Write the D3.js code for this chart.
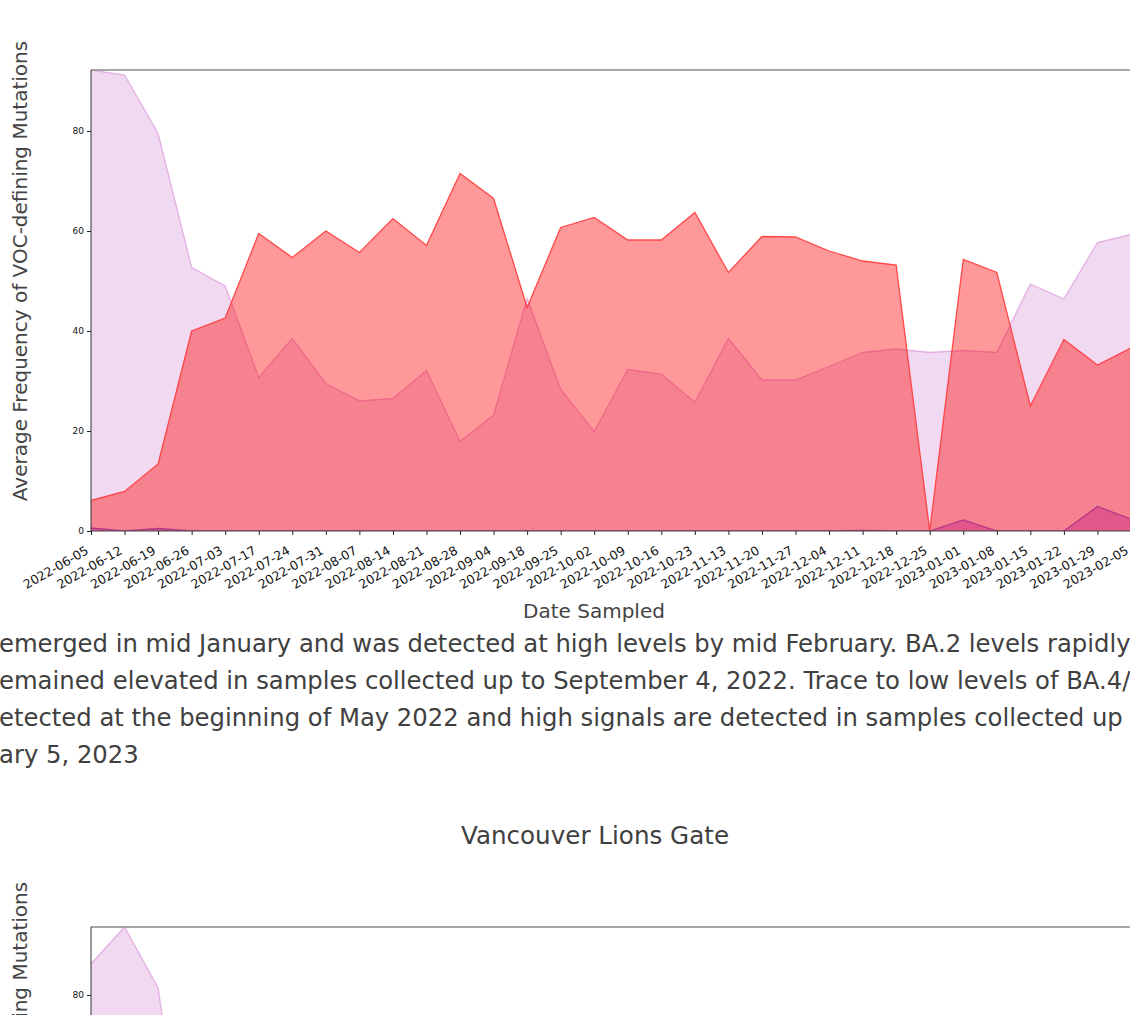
<!DOCTYPE html>
<html>
<head>
<meta charset="utf-8">
<script src="https://cdn.jsdelivr.net/npm/d3@7/dist/d3.min.js"></script>
<style>
  html, body { margin: 0; padding: 0; background: #fff; overflow: hidden; }
  svg { display: block; }
  text { font-family: "DejaVu Sans", sans-serif; }
</style>
</head>
<body>
<svg id="chart" width="1130" height="1015"></svg>
<script>
// ---- Data (chart 1) ----
const dates = ["2022-06-05","2022-06-12","2022-06-19","2022-06-26","2022-07-03","2022-07-17","2022-07-24","2022-07-31",
  "2022-08-07","2022-08-14","2022-08-21","2022-08-28","2022-09-04","2022-09-18","2022-09-25","2022-10-02",
  "2022-10-09","2022-10-16","2022-10-23","2022-11-13","2022-11-20","2022-11-27","2022-12-04","2022-12-11",
  "2022-12-18","2022-12-25","2023-01-01","2023-01-08","2023-01-15","2023-01-22","2023-01-29","2023-02-05"];
const seriesPurple = [92.2,91.2,79.5,52.7,49.0,30.7,38.5,29.5,26.0,26.5,32.1,17.9,23.2,46.5,28.3,19.9,
  32.3,31.4,25.7,38.5,30.2,30.2,32.9,35.7,36.4,35.7,36.1,35.7,49.4,46.4,57.7,59.3];
const seriesRed = [6.1,7.9,13.4,40.0,42.6,59.5,54.7,60.0,55.7,62.5,57.1,71.5,66.5,44.7,60.7,62.7,
  58.2,58.2,63.7,51.7,58.9,58.8,56.0,54.0,53.2,0.0,54.3,51.7,25.0,38.3,33.2,36.6];
const seriesMagenta = [0.6,0.0,0.5,0.0,0.0,0.0,0.0,0.0,0.0,0.0,0.0,0.0,0.0,0.0,0.0,0.0,
  0.0,0.0,0.0,0.0,0.0,0.0,0.0,0.1,0.0,0.0,2.2,0.0,0.0,0.0,4.9,2.4];
const yTicks = [0,20,40,60,80];

// ---- Data (chart 2, only the visible part) ----
const dates2 = dates;
const seriesPurple2 = [86.2,93.6,81.4,36.0];
const yTicks2 = [0,20,40,60,80];

// ---- Text ----
const yLabel = "Average Frequency of VOC-defining Mutations";
const xLabel = "Date Sampled";
const paragraphLines = [
  "emerged in mid January and was detected at high levels by mid February. BA.2 levels rapidly",
  "emained elevated in samples collected up to September 4, 2022. Trace to low levels of BA.4/5",
  "etected at the beginning of May 2022 and high signals are detected in samples collected up to",
  "ary 5, 2023"
];
const title2 = "Vancouver Lions Gate";

const svg = d3.select("#chart");

const colors = {
  purpleFill: "rgb(221,160,221)", purpleLine: "rgb(221,160,221)",
  redFill: "rgb(255,0,0)", redLine: "#ff3a3a",
  magFill: "rgb(199,21,133)", magLine: "#a52a86"
};

function drawChart(g, cfg) {
  const x = d3.scalePoint().domain(cfg.dates).range([cfg.left, cfg.right]);
  const y = d3.scaleLinear().domain([0, cfg.ymax]).range([cfg.bottom, cfg.top]);
  const clipId = "clip" + cfg.id;
  g.append("clipPath").attr("id", clipId).append("rect")
    .attr("x", cfg.left).attr("y", cfg.top).attr("width", cfg.right - cfg.left).attr("height", cfg.bottom - cfg.top);
  const plot = g.append("g").attr("clip-path", `url(#${clipId})`);

  cfg.series.forEach(s => {
    const pts = s.values.map((v, i) => [cfg.dates[i], v]);
    const area = d3.area().x(d => x(d[0])).y0(y(0)).y1(d => y(d[1]));
    const line = d3.line().x(d => x(d[0])).y(d => y(d[1]));
    plot.append("path").datum(pts).attr("d", area).attr("fill", s.fill).attr("fill-opacity", 0.4);
    plot.append("path").datum(pts).attr("d", line).attr("fill", "none")
      .attr("stroke", s.line).attr("stroke-width", 1.3).attr("stroke-opacity", s.lineOpacity);
  });

  // spines
  g.append("line").attr("x1", cfg.left).attr("x2", cfg.right + 5).attr("y1", cfg.top).attr("y2", cfg.top)
    .attr("stroke", "#8a8a8a").attr("stroke-width", 1.5);
  g.append("line").attr("x1", cfg.left).attr("x2", cfg.left).attr("y1", cfg.top).attr("y2", cfg.bottom)
    .attr("stroke", "#333").attr("stroke-width", 1);
  g.append("line").attr("x1", cfg.left).attr("x2", cfg.right + 5).attr("y1", cfg.bottom).attr("y2", cfg.bottom)
    .attr("stroke", "#444").attr("stroke-width", 1);

  // y axis
  const yAxis = d3.axisLeft(y).tickValues(cfg.yTicks).tickSize(4).tickPadding(3).tickFormat(d3.format("d"));
  const ya = g.append("g").attr("transform", `translate(${cfg.left},0)`).call(yAxis);
  ya.select(".domain").remove();
  ya.selectAll("line").attr("stroke", "#222");
  ya.selectAll("text").attr("font-size", 9).attr("fill", "#111").attr("font-family", "DejaVu Sans");

  // x axis
  const xAxis = d3.axisBottom(x).tickSize(4).tickFormat(d => d);
  const xa = g.append("g").attr("transform", `translate(0,${cfg.bottom})`).call(xAxis);
  xa.select(".domain").remove();
  xa.selectAll("line").attr("stroke", "#222");
  xa.selectAll("text").attr("font-size", 12.5).attr("fill", "#111").attr("font-family", "DejaVu Sans")
    .attr("text-anchor", "end").attr("dy", null).attr("y", 0)
    .attr("transform", "translate(-2,22) rotate(-30)");

  // y label
  g.append("text").attr("transform", `translate(${cfg.ylabX},${cfg.ylabY}) rotate(-90)`)
    .attr("text-anchor", "middle").attr("font-size", 20).attr("fill", "#444").text(yLabel);
}

const g1 = svg.append("g");
drawChart(g1, {
  id: 1, dates: dates, left: 91, right: 1131, top: 70, bottom: 531, ymax: 92.2, yTicks: yTicks,
  ylabX: 27, ylabY: 271,
  series: [
    { values: seriesPurple, fill: colors.purpleFill, line: colors.purpleLine, lineOpacity: 0.8 },
    { values: seriesRed, fill: colors.redFill, line: colors.redLine, lineOpacity: 0.9 },
    { values: seriesMagenta, fill: colors.magFill, line: colors.magLine, lineOpacity: 0.8 }
  ]
});

svg.append("text").attr("x", 594).attr("y", 618).attr("text-anchor", "middle")
  .attr("font-size", 20).attr("fill", "#444").text(xLabel);

svg.append("g").selectAll("text").data(paragraphLines).join("text")
  .attr("x", -1).attr("y", (d, i) => 652 + i * 37).attr("font-size", 24.3).attr("fill", "#404040").text(d => d);

svg.append("text").attr("x", 595).attr("y", 844).attr("text-anchor", "middle")
  .attr("font-size", 24.6).attr("fill", "#404040").text(title2);

const g2 = svg.append("g");
drawChart(g2, {
  id: 2, dates: dates2, left: 91, right: 1131, top: 927, bottom: 1395, ymax: 93.6, yTicks: yTicks2,
  ylabX: 27, ylabY: 1112,
  series: [
    { values: seriesPurple2, fill: colors.purpleFill, line: colors.purpleLine, lineOpacity: 0.8 }
  ]
});
</script>
</body>
</html>
